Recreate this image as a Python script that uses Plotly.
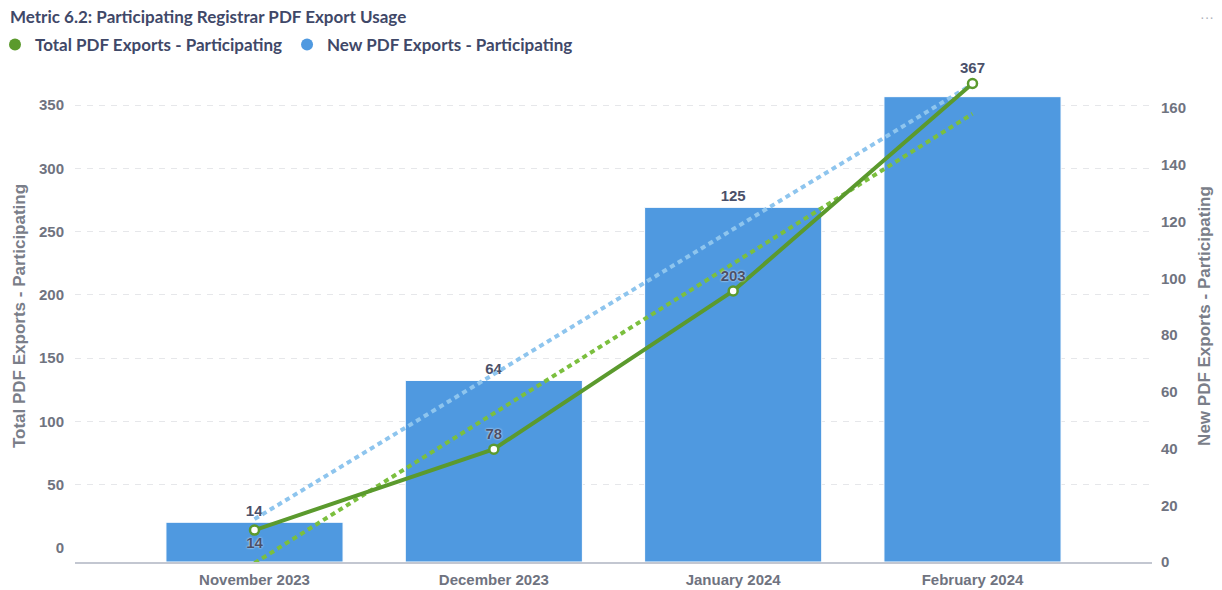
import numpy as np
import plotly.graph_objects as go

months = ["November 2023", "December 2023", "January 2024", "February 2024"]
total_exports = [14, 78, 203, 367]
new_exports = [14, 64, 125, 164]
bar_labels = ["14", "64", "125", ""]
total_labels = ["14", "78", "203", "367"]
total_label_pos = ["bottom center", "top center", "top center", "top center"]
left_ticks = [0, 50, 100, 150, 200, 250, 300, 350]
grid_ticks = [50, 100, 150, 200, 250, 300, 350]
right_ticks = [0, 20, 40, 60, 80, 100, 120, 140, 160]

GREEN = "#5b9a2d"
GREEN_TREND = "#7bbf3e"
BLUE = "#4f99e0"
BLUE_TREND = "#8ec5ee"
TEXT = "#3f4868"
TICK = "#6f7380"

xi = np.arange(len(months))
total_trend = np.polyval(np.polyfit(xi, total_exports, 1), xi)
new_trend = np.polyval(np.polyfit(xi, new_exports, 1), xi)

label_font = dict(family="Liberation Sans", size=15, color="#4a5069", weight=700,
                  shadow="0px 0px 2px white")
tick_font = dict(family="Liberation Sans", size=15, color=TICK, weight=700)
axis_title_font = dict(family="Liberation Sans", size=17, color="#7a7e89", weight=700)

fig = go.Figure()

# Bars on primary (right-side) axis so they sit beneath the line traces
fig.add_trace(go.Bar(
    x=months, y=new_exports, name="New PDF Exports - Participating",
    marker=dict(color=BLUE, line=dict(color="white", width=1)),
    width=0.74, text=bar_labels, textposition="outside", cliponaxis=False,
    textfont=label_font, showlegend=False, yaxis="y",
))
fig.add_trace(go.Scatter(
    x=months, y=new_trend, mode="lines", yaxis="y", showlegend=False,
    line=dict(color=BLUE_TREND, width=4, dash="5px,4px"), hoverinfo="skip",
))
fig.add_trace(go.Scatter(
    x=months, y=total_trend, mode="lines", yaxis="y2", showlegend=False,
    line=dict(color=GREEN_TREND, width=4, dash="5px,4px"), hoverinfo="skip",
))
fig.add_trace(go.Scatter(
    x=months, y=total_exports, mode="lines+markers+text", yaxis="y2",
    name="Total PDF Exports - Participating", showlegend=False,
    line=dict(color=GREEN, width=4),
    marker=dict(size=9, color="white", line=dict(color=GREEN, width=2.5)),
    text=total_labels, textposition=total_label_pos, cliponaxis=False,
    textfont=label_font,
))
# grid-only axis trace
fig.add_trace(go.Scatter(x=[months[0]], y=[None], yaxis="y3", showlegend=False,
                         hoverinfo="skip", mode="markers"))
# legend entries
fig.add_trace(go.Scatter(x=[months[0]], y=[None], mode="markers", yaxis="y2",
                         name="Total PDF Exports - Participating",
                         marker=dict(color=GREEN, size=12)))
fig.add_trace(go.Scatter(x=[months[0]], y=[None], mode="markers", yaxis="y",
                         name="New PDF Exports - Participating",
                         marker=dict(color=BLUE, size=12)))

L_RANGE = [-11.2, 377.7]
R_RANGE = [0, 173.4]
# the page body adds an 8px offset, so the figure is 8px smaller
OFF = 8
W, H = 1222 - OFF, 590 - OFF
PL, PR, PT, PB = 75 - OFF, 70, 70 - OFF, 28
PW = W - PL - PR
PH = H - PT - PB

fig.update_layout(
    width=W, height=H,
    margin=dict(l=PL, r=PR, t=PT, b=PB, autoexpand=False),
    paper_bgcolor="white", plot_bgcolor="white",
    title=dict(text="Metric 6.2: Participating Registrar PDF Export Usage",
               x=2 / W, xref="container", xanchor="left",
               y=1 - 3 / H, yref="container", yanchor="top",
               font=dict(family="Lato", size=17, color=TEXT, weight=700)),
    legend=dict(orientation="h", x=(14 - OFF - 19 - PL) / PW, xanchor="left",
                y=(PH + PT - (45 - OFF)) / PH, yanchor="middle",
                font=dict(family="Lato", size=17, color=TEXT, weight=700),
                bgcolor="rgba(0,0,0,0)", traceorder="normal"),
    xaxis=dict(type="category", range=[-0.75, 3.75], showgrid=False, automargin=False,
               showline=True, linecolor="#c3c7d1", linewidth=1.5,
               ticks="", ticklabelstandoff=3, tickfont=tick_font),
    yaxis=dict(side="right", range=R_RANGE, tickvals=right_ticks, showgrid=False,
               zeroline=False, showline=False, automargin=False,
               ticklabelstandoff=8, tickfont=tick_font,
               title=dict(text="New PDF Exports - Participating", standoff=13,
                          font=axis_title_font)),
    yaxis2=dict(side="left", overlaying="y", range=L_RANGE, tickvals=left_ticks,
                showgrid=False, zeroline=False, showline=False, automargin=False,
                ticklabelstandoff=10, tickfont=tick_font,
                title=dict(text="Total PDF Exports - Participating", standoff=9,
                           font=axis_title_font)),
    yaxis3=dict(overlaying="y", range=L_RANGE, tickvals=grid_ticks, showticklabels=False,
                showgrid=True, gridcolor="#e6e7ea", griddash="6px,6px", gridwidth=1,
                zeroline=False, showline=False, automargin=False),
    annotations=[dict(text="···", x=(1207 - OFF - PL) / PW, y=(PH + PT - (17 - OFF)) / PH,
                      xref="paper", yref="paper", showarrow=False,
                      xanchor="center", yanchor="middle",
                      font=dict(family="Liberation Sans", size=14, color="#b0b3bb"))],
)
fig.write_html("out.html")
